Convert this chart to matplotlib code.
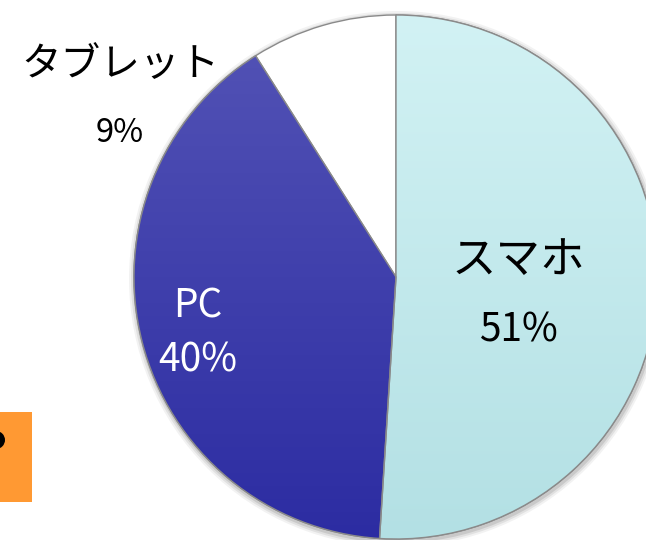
import numpy as np
import matplotlib.pyplot as plt
from matplotlib.colors import to_rgb
from matplotlib.patches import Rectangle, Circle, Wedge

plt.rcParams['font.family'] = ['Noto Sans CJK JP', 'DejaVu Sans']

# データ
labels = ['スマホ', 'PC', 'タブレット']
shares = [51, 40, 9]
colors = ['#c8eef0', '#3a3aab', '#ffffff']
text_colors = ['black', 'white', 'black']

W, H = 646, 540
fig = plt.figure(figsize=(W / 100, H / 100), dpi=100)
ax = fig.add_axes([0, 0, 1, 1])

cx, cy, r = 396, 263, 262

# うすい影
for k, a in [(6, 0.05), (4, 0.07), (2, 0.10)]:
    ax.add_patch(Circle((cx + 1, cy - 2), r + k, color='black', alpha=a, lw=0, zorder=0))

wedges, _ = ax.pie(shares, colors=colors, startangle=90, counterclock=False,
                   center=(cx, cy), radius=r, frame=True,
                   wedgeprops=dict(edgecolor='#8a8a8a', linewidth=1))

# グラデーション
grads = [('#d2f2f4', '#b3e0e4'), ('#5454b6', '#2c2ca2')]
for w, (c_top, c_bot) in zip(wedges[:2], grads):
    top = np.array(to_rgb(c_top))
    bot = np.array(to_rgb(c_bot))
    t = np.linspace(0, 1, 256)[:, None]
    img = (top * (1 - t) + bot * t)[:, None, :]
    im = ax.imshow(img, extent=(cx - r, cx + r, cy - r, cy + r), origin='upper',
                   aspect='auto', zorder=w.get_zorder() + 0.1)
    im.set_clip_path(w)
    ax.add_patch(Wedge(w.center, w.r, w.theta1, w.theta2, fill=False,
                       edgecolor='#8a8a8a', lw=1, zorder=w.get_zorder() + 0.2))

ax.set_xlim(0, W)
ax.set_ylim(0, H)
ax.axis('off')

# ラベル
ax.text(518, H - 260, labels[0], ha='center', va='center', fontsize=32, color=text_colors[0], zorder=5)
ax.text(518, H - 331, f'{shares[0]}%', ha='center', va='center', fontsize=28, color=text_colors[0], zorder=5)
ax.text(198, H - 307, labels[1], ha='center', va='center', fontsize=28, color=text_colors[1], zorder=5)
ax.text(198, H - 361, f'{shares[1]}%', ha='center', va='center', fontsize=28, color=text_colors[1], zorder=5)
ax.text(120, H - 65, labels[2], ha='center', va='center', fontsize=28.5, color=text_colors[2], zorder=5)
ax.text(120, H - 133, f'{shares[2]}%', ha='center', va='center', fontsize=23.5, color=text_colors[2], zorder=5)

# 左端のオレンジの枠
ax.add_patch(Rectangle((0, H - 502), 32, 90, color='#ff9933', lw=0, zorder=5))
ax.add_patch(Circle((-4, H - 440), 9, color='black', lw=0, zorder=6))

fig.savefig('out.png', dpi=100)
